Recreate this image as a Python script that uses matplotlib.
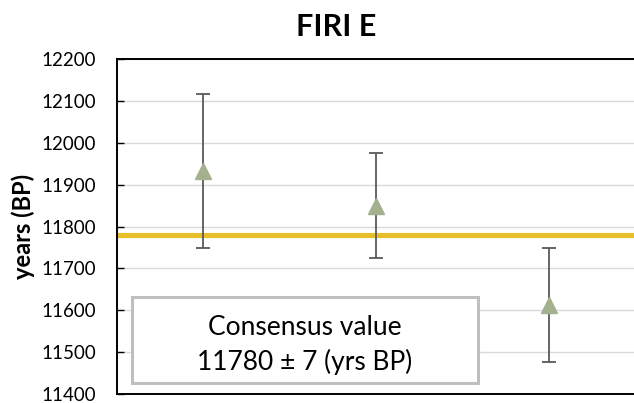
import matplotlib
matplotlib.use("Agg")
import matplotlib.pyplot as plt
from matplotlib.patches import Rectangle

# lab results for the FIRI E sample
labs = [1, 2, 3]
ages = [11932, 11850, 11613]
errors = [184, 126, 136]
consensus = 11780
consensus_err = 7
y_ticks = list(range(11400, 12201, 100))


def main():
    plt.rcParams['font.family'] = ['Lato', 'DejaVu Sans']
    fig = plt.figure(figsize=(6.34, 4.03), dpi=100)
    ax = fig.add_axes([0.1838, 0.0223, 0.8186, 0.8313])

    ax.axhline(consensus, color='#e8bd2a', lw=3.7, zorder=2)
    ax.errorbar(labs, ages, yerr=errors, fmt='^', color='#a3b18e',
                markersize=11, ecolor='#595959', elinewidth=1.3,
                capsize=4.8, capthick=1.3, zorder=3)

    ax.set_xlim(0.5, 3.5)
    ax.set_ylim(11400, 12200)
    ax.set_yticks(y_ticks)
    ax.set_xticks([])
    ax.grid(axis='y', color='#d9d9d9', lw=1.0, zorder=0)
    ax.set_axisbelow(True)
    ax.tick_params(axis='y', direction='in', length=5, width=1.0,
                   labelsize=13.5, pad=15)
    for side in ['top', 'bottom', 'left']:
        ax.spines[side].set_linewidth(1.4)
    ax.spines['right'].set_visible(False)

    ax.set_ylabel('years (BP)', fontsize=17, fontweight='bold', labelpad=4)
    fig.text(0.53, 0.932, 'FIRI E', ha='center', va='center',
             fontsize=22, fontweight='bold')

    box = Rectangle((0.030, 0.033), 0.6665, 0.2566, transform=ax.transAxes,
                    facecolor='white', edgecolor='#bfbfbf', lw=2.2, zorder=4)
    ax.add_patch(box)
    ax.text(0.363, 0.200, 'Consensus value', transform=ax.transAxes,
            ha='center', va='center', fontsize=19, zorder=5)
    ax.text(0.363, 0.0955, f'{consensus} ± {consensus_err} (yrs BP)',
            transform=ax.transAxes, ha='center', va='center', fontsize=19,
            zorder=5)

    fig.savefig('out.png', dpi=100)


if __name__ == "__main__":
    main()
